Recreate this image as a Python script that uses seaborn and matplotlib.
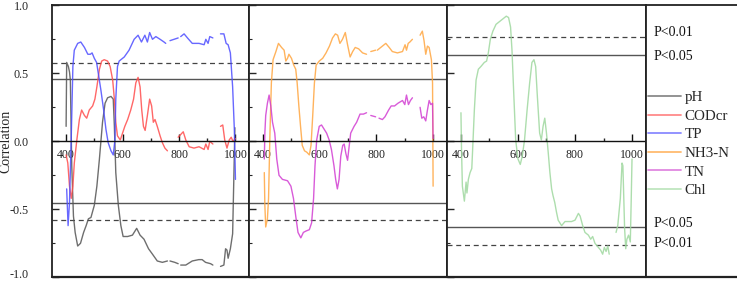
import numpy as np
import pandas as pd
import matplotlib
matplotlib.use("Agg")
import matplotlib.pyplot as plt
from matplotlib.lines import Line2D
from matplotlib.transforms import ScaledTranslation
from matplotlib.ticker import MultipleLocator, FixedLocator, FormatStrFormatter
import seaborn as sns

nan = np.nan

# ---------------- data ----------------
ph_wl = [400, 402, 408, 412, 415, 420, 426, 432, 441, 451, 462, 471, 479, 488, 500, 509, 518, 529, 538, 547,
         559, 567, 571, 576, 585, 594, 602, 618, 635, 650, 662, 676, 692, 706, 723, 741, 759, 763, 768, 785,
         797, 802, 806, 824, 847, 870, 882, 894, 912, 920, 933, 947, 959, 965, 970, 974, 982, 990, 995, 998]
ph_r = [0.11, 0.58, 0.55, 0.51, 0.45, -0.18, -0.55, -0.67, -0.77, -0.75, -0.67, -0.62, -0.57, -0.56, -0.47, -0.33,
        -0.13, 0.14, 0.28, 0.32, 0.33, 0.31, 0.11, -0.23, -0.47, -0.62, -0.70, -0.70, -0.69, -0.64, -0.69, -0.72,
        -0.79, -0.83, -0.88, -0.89, -0.88, nan, -0.88, -0.89, -0.90, nan, -0.91, -0.91, -0.88, -0.87, -0.87, -0.89,
        -0.90, -0.91, nan, -0.92, -0.91, -0.79, -0.80, -0.86, -0.79, -0.68, -0.20, 0.10]

cod_wl = [400, 406, 412, 418, 424, 429, 438, 447, 455, 465, 473, 482, 494, 502, 509, 518, 526, 535, 547, 556,
          565, 571, 576, 582, 592, 600, 608, 618, 629, 639, 647, 655, 662, 668, 674, 680, 688, 696, 703, 709,
          715, 723, 733, 741, 750, 759, 780, 797, 806, 815, 824, 836, 853, 871, 889, 895, 903, 909, 920, 933,
          947, 955, 962, 970, 978, 985, 991, 1000]
cod_r = [-0.10, -0.16, -0.33, -0.42, -0.33, -0.16, 0.01, 0.16, 0.23, 0.19, 0.17, 0.23, 0.26, 0.31, 0.40, 0.53,
         0.59, 0.60, 0.59, 0.55, 0.45, 0.31, 0.14, 0.04, 0.01, 0.06, 0.11, 0.16, 0.23, 0.31, 0.43, 0.47, 0.40,
         0.23, 0.11, 0.08, 0.19, 0.31, 0.26, 0.14, 0.16, 0.11, 0.04, -0.01, -0.05, -0.07, nan, 0.03, 0.05, 0.07,
         0.01, -0.04, -0.05, -0.04, -0.06, -0.02, -0.06, 0.00, -0.02, nan, 0.11, 0.12, 0.01, -0.05, 0.01, 0.03,
         0.00, 0.02]

tp_wl = [402, 407, 412, 418, 424, 429, 441, 452, 465, 477, 486, 492, 500, 508, 514, 523, 533, 541, 549, 559,
         567, 573, 576, 582, 588, 606, 623, 641, 655, 667, 679, 688, 696, 706, 718, 733, 747, 753, 759, 768,
         797, 801, 806, 818, 830, 847, 871, 889, 895, 903, 909, 920, 933, 947, 959, 967, 974, 982, 990, 996, 1000]
tp_r = [-0.35, -0.62, -0.45, 0.01, 0.55, 0.67, 0.72, 0.73, 0.69, 0.64, 0.64, 0.65, 0.61, 0.58, 0.50, 0.38, 0.23,
        0.09, -0.01, -0.07, -0.10, 0.01, 0.31, 0.55, 0.59, 0.62, 0.67, 0.75, 0.78, 0.73, 0.78, 0.73, 0.80, 0.75,
        0.77, 0.75, 0.73, 0.72, nan, 0.74, 0.76, nan, 0.77, 0.79, 0.76, 0.72, 0.72, 0.71, 0.75, 0.72, 0.77, 0.76,
        nan, 0.79, 0.79, 0.72, 0.71, 0.65, 0.40, 0.09, -0.28]

nh3_wl = [404, 406, 409, 415, 419, 424, 429, 435, 445, 454, 465, 474, 480, 486, 491, 500, 508, 515, 520, 526,
          532, 538, 546, 554, 563, 569, 575, 581, 587, 598, 610, 622, 634, 645, 655, 663, 671, 680, 690, 698,
          707, 716, 725, 737, 751, 765, 772, 780, 797, 800, 803, 821, 833, 845, 856, 874, 892, 901, 906, 912,
          918, 927, 940, 954, 962, 968, 974, 980, 986, 994, 998, 1000]
nh3_r = [-0.23, -0.47, -0.63, -0.57, -0.42, 0.06, 0.43, 0.60, 0.66, 0.72, 0.69, 0.67, 0.59, 0.61, 0.64, 0.61,
         0.56, 0.53, 0.43, 0.26, 0.11, -0.03, -0.07, -0.08, -0.10, -0.03, 0.19, 0.43, 0.56, 0.59, 0.61, 0.65,
         0.70, 0.76, 0.79, 0.78, 0.72, 0.75, 0.80, 0.71, 0.62, 0.66, 0.69, 0.68, 0.65, 0.64, nan, 0.66, 0.67, nan,
         0.67, 0.70, 0.72, 0.69, 0.66, 0.65, 0.66, 0.71, 0.67, 0.72, 0.73, 0.75, nan, 0.78, 0.81, 0.74, 0.64,
         0.70, 0.69, 0.60, 0.43, -0.33]

tn_wl = [404, 406, 409, 415, 421, 427, 433, 441, 448, 456, 468, 486, 498, 507, 515, 523, 533, 542, 551, 563,
         571, 578, 583, 589, 598, 606, 615, 624, 633, 641, 650, 656, 662, 668, 674, 681, 686, 692, 698, 704,
         709, 721, 730, 742, 754, 765, 772, 780, 797, 800, 809, 821, 830, 843, 852, 864, 876, 892, 900, 906,
         913, 920, 927, 940, 954, 960, 967, 974, 980, 986, 992, 998, 1000]
tn_r = [-0.13, 0.06, 0.19, 0.28, 0.34, 0.26, 0.14, 0.06, -0.13, -0.25, -0.28, -0.29, -0.33, -0.42, -0.55, -0.67,
        -0.71, -0.67, -0.66, -0.65, -0.60, -0.42, -0.18, 0.01, 0.11, 0.12, 0.09, 0.06, 0.01, -0.06, -0.18, -0.28,
        -0.35, -0.28, -0.11, -0.03, -0.02, -0.09, -0.14, -0.03, 0.06, 0.11, 0.14, 0.20, 0.20, 0.21, nan, 0.19,
        0.18, nan, 0.17, 0.16, 0.18, 0.23, 0.26, 0.26, 0.28, 0.30, 0.27, 0.34, 0.27, 0.30, 0.32, nan, 0.25, 0.17,
        0.18, 0.15, 0.23, 0.30, 0.27, 0.28, 0.02]

chl_wl = [400, 402, 405, 412, 418, 421, 426, 432, 438, 441, 447, 453, 461, 470, 482, 490, 496, 503, 512, 523,
          535, 547, 559, 567, 574, 579, 586, 592, 600, 608, 615, 623, 632, 641, 649, 656, 662, 668, 676, 682,
          688, 694, 700, 706, 712, 718, 723, 729, 735, 741, 753, 765, 776, 788, 800, 812, 818, 827, 835, 847,
          855, 862, 870, 882, 890, 897, 903, 909, 915, 920, 932, 944, 950, 959, 965, 968, 970, 974, 978, 982,
          988, 994, 997, 1000]
chl_r = [0.21, -0.06, -0.33, -0.44, -0.30, -0.38, -0.28, -0.23, -0.20, -0.06, 0.23, 0.45, 0.53, 0.55, 0.58, 0.59,
         0.65, 0.75, 0.81, 0.86, 0.88, 0.90, 0.92, 0.91, 0.84, 0.67, 0.31, 0.01, -0.13, -0.17, -0.11, 0.01, 0.23,
         0.43, 0.58, 0.60, 0.55, 0.33, 0.06, 0.01, 0.11, 0.17, 0.06, -0.08, -0.23, -0.35, -0.40, -0.45, -0.52,
         -0.58, -0.62, -0.59, -0.59, -0.59, -0.58, -0.53, -0.55, -0.62, -0.67, -0.69, -0.72, -0.70, -0.75, -0.78,
         -0.80, -0.83, -0.78, -0.81, -0.77, -0.83, nan, -0.67, -0.62, -0.42, -0.16, -0.18, -0.33, -0.64, -0.79,
         -0.72, -0.69, -0.74, -0.45, -0.13]

series_names = ["pH", "CODcr", "TP", "NH3-N", "TN", "Chl"]
series_colors = ["#555555", "#ff4d4d", "#4d4dff", "#ffa640", "#d23ed2", "#9fd89f"]
legend_colors = ["#8a8a8a", "#ff8a8a", "#8a8aff", "#ffbb70", "#e088e0", "#bfe6bf"]

# critical correlation values (P<0.05, P<0.01)
crit_main = [0.456, 0.575]
crit_chl = [0.632, 0.765]
p_labels = ["P<0.05", "P<0.01"]

xticks_major = [400, 600, 800, 1000]
xticks_minor = [500, 700, 900]
yticks_major = [-1.0, -0.5, 0.0, 0.5, 1.0]


def seg_frame(wl, r):
    df = pd.DataFrame({"wl": wl, "r": r})
    df["seg"] = df["r"].isna().cumsum()
    return df.dropna()


data = {
    "pH": seg_frame(ph_wl, ph_r),
    "CODcr": seg_frame(cod_wl, cod_r),
    "TP": seg_frame(tp_wl, tp_r),
    "NH3-N": seg_frame(nh3_wl, nh3_r),
    "TN": seg_frame(tn_wl, tn_r),
    "Chl": seg_frame(chl_wl, chl_r),
}
color_of = dict(zip(series_names, series_colors))

# ---------------- styling ----------------
sns.set_theme(style="white")
plt.rcParams["font.family"] = ["Liberation Serif", "DejaVu Serif"]
plt.rcParams["axes.unicode_minus"] = False

W, H = 737, 283
fig = plt.figure(figsize=(W / 100, H / 100), dpi=100)

top_px, bot_px = 5.3, 277.3
y0 = 1 - bot_px / H
hh = (bot_px - top_px) / H
edges = [52, 249, 446.7, 645.7]


def make_ax(l, r):
    return fig.add_axes([l / W, y0, (r - l) / W, hh])


ax1 = make_ax(edges[0], edges[1])
ax2 = make_ax(edges[1], edges[2])
ax3 = make_ax(edges[2], edges[3])
axl = make_ax(edges[3], 745)

panels = [(ax1, ["pH", "CODcr", "TP"], crit_main),
          (ax2, ["NH3-N", "TN"], crit_main),
          (ax3, ["Chl"], crit_chl)]

for i, (ax, names, crit) in enumerate(panels):
    for nm in names:
        sns.lineplot(data=data[nm], x="wl", y="r", units="seg", estimator=None, sort=False,
                     color=color_of[nm], lw=1.0, alpha=0.85, ax=ax, legend=False)
    for v in (crit[0], -crit[0]):
        ax.axhline(v, color="#555555", lw=1.0, zorder=1)
    for v in (crit[1], -crit[1]):
        ax.axhline(v, color="#444444", lw=0.9, ls=(0, (4, 3)), zorder=1)
    ax.set_xlim(350, 1048)
    ax.set_ylim(-1, 1)
    ax.set_xlabel("")
    ax.set_ylabel("")
    ax.spines["bottom"].set_position(("data", 0))
    for s in ["top", "left", "right"]:
        ax.spines[s].set_color("#222222")
        ax.spines[s].set_linewidth(1.3)
    ax.spines["bottom"].set_color("#111111")
    ax.spines["bottom"].set_linewidth(1.0)
    ax.axhline(-1, color="#222222", lw=1.6, clip_on=False, zorder=5)
    ax.xaxis.set_major_locator(FixedLocator(xticks_major))
    ax.xaxis.set_minor_locator(FixedLocator(xticks_minor))
    ax.yaxis.set_major_locator(FixedLocator(yticks_major))
    ax.yaxis.set_minor_locator(MultipleLocator(0.25))
    ax.yaxis.set_major_formatter(FormatStrFormatter("%.1f"))
    ax.tick_params(axis="x", which="major", direction="in", length=5, width=1.0,
                   labelsize=8.5, pad=5.5, colors="#111111", bottom=True)
    ax.tick_params(axis="x", which="minor", direction="in", length=2.5, width=1.0, bottom=True)
    ax.tick_params(axis="y", which="major", direction="in", length=5, width=1.0,
                   labelsize=8.7, pad=16.5, left=True, right=False, labelleft=(i == 0))
    ax.tick_params(axis="y", which="minor", direction="in", length=2.5, width=0.8, left=True, right=False)
    for lab in ax.get_xticklabels():
        lab.set_color("#222222")

# nudge the lowest y tick label up slightly so it stays inside the figure
low_tick = ax1.yaxis.get_major_ticks()[0]
low_tick.label1.set_transform(low_tick.label1.get_transform()
                              + ScaledTranslation(0, 2.5 / 72, fig.dpi_scale_trans))

ax1.set_ylabel("Correlation", fontsize=10, va="center")
ax1.yaxis.set_label_coords(-0.232, 0.5)

# legend / annotation panel
axl.set_xlim(0, 1)
axl.set_ylim(-1, 1)
axl.set_xticks([])
axl.set_yticks([])
axl.spines["right"].set_visible(False)
for s in ["top", "left", "bottom"]:
    axl.spines[s].set_color("#222222")
    axl.spines[s].set_linewidth(1.3)
axl.axhline(-1, color="#222222", lw=1.6, clip_on=False, zorder=5)

tx = 7.6 / (745 - 645.7)
for yv, txt in [(0.80, p_labels[1]), (0.625, p_labels[0]), (-0.603, p_labels[0]), (-0.755, p_labels[1])]:
    axl.text(tx, yv, txt, fontsize=10, va="center", ha="left", color="#111111")

handles = [Line2D([], [], color=c, lw=1.3) for c in legend_colors]
axl.legend(handles, series_names, loc="center left", bbox_to_anchor=(2.6 / (745 - 645.7), 0.49),
           frameon=False, fontsize=10.8, handlelength=2.15, handletextpad=0.28, labelspacing=0.34,
           borderpad=0, borderaxespad=0)

fig.savefig("out.png", dpi=100)
